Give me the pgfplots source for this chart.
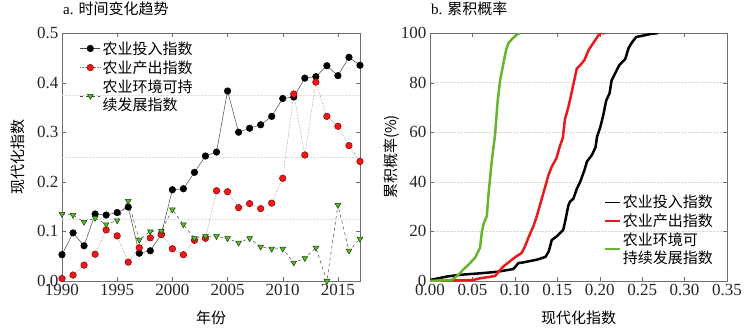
\documentclass[border=0pt]{standalone}
\usepackage{fontspec}
\setmainfont{Liberation Serif}
\newfontfamily\cjk{Noto Sans CJK SC}
\usepackage{pgfplots}
\pgfplotsset{compat=1.18}
\definecolor{myred}{RGB}{235,25,25}
\definecolor{mygreen}{RGB}{105,180,45}
\definecolor{framec}{RGB}{110,110,110}
\definecolor{linec}{RGB}{80,70,65}
\newcommand{\tickfont}{\fontsize{17}{19}\selectfont}
\begin{document}
\begin{tikzpicture}
\pgfplotsset{every axis/.append style={
  scale only axis,
  font=\fontsize{15}{17}\selectfont,
  axis line style={framec},
  tick style={framec},
  tick align=inside,
  major tick length=4pt,
  /pgf/number format/assume math mode=true,
  legend cell align=left,
  every axis x label/.style={at={(axis description cs:0.5,0)}, anchor=center, yshift=-37pt},
  title style={at={(axis description cs:0,1)}, anchor=south west, inner sep=0pt, yshift=11pt, xshift=1pt},
}}
% ---------------- panel a
\begin{axis}[at={(62pt,52pt)}, anchor=south west, width=298pt, height=248pt,
  xmin=1990, xmax=2017, ymin=0, ymax=0.5,
  xtick={1990,1995,2000,2005,2010,2015},
  ytick={0,0.1,0.2,0.3,0.4,0.5},
  xticklabel style={font=\tickfont, text=black!85, /pgf/number format/1000 sep={}},
  yticklabel style={font=\tickfont, text=black!85, /pgf/number format/.cd, fixed, fixed zerofill, precision=1},
  extra y ticks={0.125,0.25,0.375}, extra y tick labels={},
  extra y tick style={grid=major, major grid style={densely dotted, gray!25, line width=0.5pt}, major tick length=0pt},
  ylabel={\cjk 现代化指数},
  ylabel style={at={(axis description cs:-0.148,0.5)}, rotate=0, anchor=center},
  xlabel={\cjk 年份},
  title={a. {\cjk 时间变化趋势}},
  legend style={draw=none, fill=none, at={(0.06,0.975)}, anchor=north west, cells={align=left}, font=\cjk\fontsize{15}{18.5}\selectfont, row sep=1pt, inner sep=0pt},
  legend image code/.code={\draw[mark repeat=2,mark phase=2,#1] plot coordinates {(0pt,0pt) (10pt,0pt) (20pt,0pt)};},
]
\addplot[color=linec, line width=0.5pt, mark=*, mark size=3.3pt, mark options={solid, fill=black, draw=black}] coordinates {
(1990,0.053) (1991,0.097) (1992,0.071) (1993,0.135) (1994,0.133) (1995,0.138) (1996,0.149)
(1997,0.056) (1998,0.061) (1999,0.094) (2000,0.184) (2001,0.186) (2002,0.219) (2003,0.252)
(2004,0.260) (2005,0.383) (2006,0.300) (2007,0.308) (2008,0.315) (2009,0.332) (2010,0.368)
(2011,0.371) (2012,0.409) (2013,0.412) (2014,0.434) (2015,0.414) (2016,0.451) (2017,0.435)};
\addlegendentry{农业投入指数}
\addplot[color=gray, line width=0.5pt, densely dotted, mark=*, mark size=3.3pt, mark options={solid, fill=myred, draw=red!60!black}] coordinates {
(1990,0.005) (1991,0.012) (1992,0.032) (1993,0.054) (1994,0.103) (1995,0.091) (1996,0.038)
(1997,0.067) (1998,0.087) (1999,0.094) (2000,0.065) (2001,0.053) (2002,0.082) (2003,0.086)
(2004,0.182) (2005,0.180) (2006,0.148) (2007,0.156) (2008,0.146) (2009,0.157) (2010,0.207)
(2011,0.377) (2012,0.254) (2013,0.401) (2014,0.332) (2015,0.312) (2016,0.273) (2017,0.241)};
\addlegendentry{农业产出指数}
\addplot[color=linec, line width=0.5pt, dashed, mark=triangle*, mark size=3.3pt, mark options={solid, rotate=180, fill=mygreen, draw=green!30!black}] coordinates {
(1990,0.135) (1991,0.133) (1992,0.119) (1993,0.127) (1994,0.114) (1995,0.122) (1996,0.161)
(1997,0.083) (1998,0.100) (1999,0.101) (2000,0.144) (2001,0.114) (2002,0.086) (2003,0.090)
(2004,0.090) (2005,0.086) (2006,0.077) (2007,0.086) (2008,0.069) (2009,0.065) (2010,0.065)
(2011,0.037) (2012,0.046) (2013,0.067) (2014,0.000) (2015,0.153) (2016,0.061) (2017,0.085)};
\addlegendentry{农业环境可持\\续发展指数}
\end{axis}
% ---------------- panel b
\begin{axis}[at={(430pt,52pt)}, anchor=south west, width=297pt, height=248pt,
  xmin=0, xmax=0.35, ymin=0, ymax=100,
  xtick={0,0.05,0.1,0.15,0.2,0.25,0.3,0.35},
  ytick={0,20,40,60,80,100},
  xticklabel style={font=\tickfont, text=black!85, /pgf/number format/.cd, fixed, fixed zerofill, precision=2},
  yticklabel style={font=\tickfont, text=black!85},
  ymajorgrids, major grid style={densely dotted, gray!30, line width=0.5pt},
  ylabel={\cjk 累积概率(\%)},
  ylabel style={at={(axis description cs:-0.128,0.5)}, rotate=0, anchor=center},
  xlabel={\cjk 现代化指数},
  title={b. {\cjk 累积概率}},
  legend style={draw=none, fill=none, at={(0.96,0.055)}, anchor=south east, cells={align=left}, font=\cjk\fontsize{15}{18.5}\selectfont, row sep=0.5pt, inner sep=0pt},
  legend image code/.code={\draw[#1, line width=1.6pt] (0pt,0pt) -- (15pt,0pt);},
]
\addplot[black, line width=2.5pt, line join=round] coordinates {
(0,0.4) (0.0197,1.8) (0.0354,2.5) (0.059,3.1) (0.0786,3.7) (0.098,4.8) (0.100,5.5) (0.104,7.2)
(0.110,7.5) (0.126,8.6) (0.136,9.7) (0.140,12) (0.1435,16.5) (0.149,17.9) (0.157,20.6)
(0.159,23.6) (0.163,30.4) (0.165,32) (0.169,33.2) (0.173,37.2) (0.177,40) (0.182,44.7)
(0.185,48.2) (0.191,50.9) (0.195,53.9) (0.197,58.4) (0.2005,61.8) (0.204,66.6) (0.2076,72.7)
(0.2116,75.7) (0.214,80.9) (0.218,83.6) (0.223,87) (0.230,89.4) (0.234,93.9) (0.238,96.2)
(0.243,98.4) (0.252,99) (0.2595,99.6) (0.269,100)};
\addlegendentry{农业投入指数}
\addplot[myred, line width=2.5pt, line join=round] coordinates {
(0,0) (0.051,0.4) (0.059,1.1) (0.0767,2) (0.081,3.8) (0.0865,5.9) (0.094,7.9) (0.102,10)
(0.108,11.3) (0.112,14) (0.116,17.5) (0.122,22.2) (0.126,26.3) (0.130,31.1) (0.134,35.9)
(0.1396,42.7) (0.1435,46.1) (0.149,49.5) (0.153,54.3) (0.1565,57.7) (0.159,65.2) (0.163,70)
(0.167,76.1) (0.170,80.9) (0.173,85.7) (0.177,87) (0.182,89.1) (0.187,93.2) (0.195,97.3)
(0.2005,100) (0.206,100)};
\addlegendentry{农业产出指数}
\addplot[mygreen, line width=2.5pt, line join=round] coordinates {
(0,0) (0.0256,0.4) (0.0334,2.5) (0.039,4.5) (0.045,6.5) (0.053,9.3) (0.059,13.4) (0.061,19.5)
(0.063,22.9) (0.067,26.3) (0.069,35.2) (0.0727,48.2) (0.0767,59.1) (0.0794,71.4) (0.0826,80.9)
(0.0865,87.7) (0.0897,93.2) (0.0924,95.9) (0.096,97.3) (0.102,99.3) (0.106,100)};
\addlegendentry{农业环境可\\持续发展指数}
\end{axis}
\pgfresetboundingbox
\path[use as bounding box] (0pt,0pt) rectangle (747pt,333pt);
\end{tikzpicture}
\end{document}
